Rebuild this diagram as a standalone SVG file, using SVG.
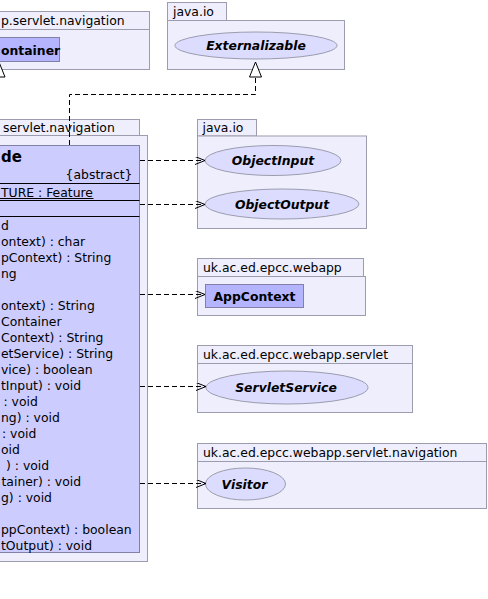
<svg xmlns="http://www.w3.org/2000/svg" width="488" height="599" viewBox="0 0 488 599">
<style>
text{font-family:"DejaVu Sans","Liberation Sans",sans-serif;font-size:12.4px;fill:#000}
.pkg{fill:#eeeefc;stroke:#9c9cae;stroke-width:1}
.cls{fill:#ccccff;stroke:#8080a8;stroke-width:1}
.cls2{fill:#b4b4ff;stroke:#8080a8;stroke-width:1}
.ell{fill:#dcdcff;stroke:#9c9cae;stroke-width:1}
.b{font-weight:bold}
.bi{font-weight:bold;font-style:italic}
.sep{stroke:#000;stroke-width:1}
.dep{fill:none;stroke:#000;stroke-width:1;stroke-dasharray:5,3}
</style>
<defs>
<marker id="open" markerWidth="12" markerHeight="10" refX="10" refY="4" orient="auto" markerUnits="userSpaceOnUse">
<path d="M0,0 L10,4 L0,8" fill="none" stroke="#000" stroke-width="1"/>
</marker>
</defs>

<g id="pkg-topleft">
<rect class="pkg" x="-2" y="11.5" width="151.5" height="18"/>
<rect class="pkg" x="-2" y="29.5" width="151.5" height="40"/>
<text x="1" y="25">p.servlet.navigation</text>
</g>
<g id="node-container">
<rect class="cls2" x="-2" y="37.5" width="61.5" height="24"/>
<text class="b" x="1" y="54.5">ontainer</text>
</g>

<g id="pkg-javaio-top">
<rect class="pkg" x="167.5" y="2.5" width="59" height="18"/>
<rect class="pkg" x="167.5" y="20.5" width="177" height="49"/>
<text x="173" y="16">java.io</text>
</g>
<g id="node-externalizable">
<ellipse class="ell" cx="256" cy="45.5" rx="81" ry="13.5"/>
<text class="bi" x="256" y="50" text-anchor="middle">Externalizable</text>
</g>

<g id="pkg-main">
<rect class="pkg" x="-2" y="119.5" width="141.5" height="16"/>
<rect class="pkg" x="-2" y="135.5" width="149.5" height="426"/>
<text x="3" y="131.5">servlet.navigation</text>
</g>
<g id="node-main">
<rect class="cls" x="-2" y="145.5" width="141.5" height="407"/>
<text class="b" x="1" y="161.5" style="font-size:15px">de</text>
<text x="132.5" y="178.5" text-anchor="end">{abstract}</text>
<line class="sep" x1="-2" y1="183.5" x2="139.5" y2="183.5"/>
<text x="1" y="196.5">TURE : Feature</text>
<line class="sep" x1="-2" y1="198.5" x2="93.5" y2="198.5"/>
<line class="sep" x1="-2" y1="200.5" x2="139.5" y2="200.5"/>
<line class="sep" x1="-2" y1="216.5" x2="139.5" y2="216.5"/>
<g id="operations">
<text x="1" y="230">d</text>
<text x="1" y="246">ontext) : char</text>
<text x="1" y="262">pContext) : String</text>
<text x="1" y="278">ng</text>
<text x="1" y="310">ontext) : String</text>
<text x="1" y="326">Container</text>
<text x="1" y="342">Context) : String</text>
<text x="1" y="358">etService) : String</text>
<text x="1" y="374">vice) : boolean</text>
<text x="1" y="390">tInput) : void</text>
<text x="3.5" y="406">: void</text>
<text x="1" y="422">ng) : void</text>
<text x="2" y="438">: void</text>
<text x="1" y="454">oid</text>
<text x="6" y="470">) : void</text>
<text x="1.5" y="486">tainer) : void</text>
<text x="1" y="502">g) : void</text>
<text x="1" y="534">ppContext) : boolean</text>
<text x="1" y="550">tOutput) : void</text>
</g>
</g>

<g id="pkg-javaio">
<rect class="pkg" x="197.5" y="119.5" width="59" height="16.5"/>
<rect class="pkg" x="197.5" y="136" width="169" height="92.5"/>
<text x="202.5" y="132">java.io</text>
</g>
<g id="node-objectinput">
<ellipse class="ell" cx="273" cy="160.5" rx="68" ry="15"/>
<text class="bi" x="273" y="165" text-anchor="middle">ObjectInput</text>
</g>
<g id="node-objectoutput">
<ellipse class="ell" cx="282" cy="204" rx="77" ry="15"/>
<text class="bi" x="282" y="208.5" text-anchor="middle">ObjectOutput</text>
</g>

<g id="pkg-webapp">
<rect class="pkg" x="197.5" y="258.5" width="166" height="18"/>
<rect class="pkg" x="197.5" y="276.5" width="168" height="39"/>
<text x="203" y="272">uk.ac.ed.epcc.webapp</text>
</g>
<g id="node-appcontext">
<rect class="cls2" x="205.5" y="284.5" width="98" height="23"/>
<text class="b" x="254.5" y="300.5" text-anchor="middle">AppContext</text>
</g>

<g id="pkg-servlet">
<rect class="pkg" x="197.5" y="345.5" width="215" height="18"/>
<rect class="pkg" x="197.5" y="363.5" width="215" height="49"/>
<text x="203" y="359">uk.ac.ed.epcc.webapp.servlet</text>
</g>
<g id="node-servletservice">
<ellipse class="ell" cx="287" cy="387.5" rx="81" ry="16.5"/>
<text class="bi" x="286" y="392" text-anchor="middle">ServletService</text>
</g>

<g id="pkg-navigation">
<rect class="pkg" x="197.5" y="443.5" width="289" height="18"/>
<rect class="pkg" x="197.5" y="461.5" width="289" height="47"/>
<text x="203" y="457">uk.ac.ed.epcc.webapp.servlet.navigation</text>
</g>
<g id="node-visitor">
<ellipse class="ell" cx="245.5" cy="484" rx="40" ry="16"/>
<text class="bi" x="244.5" y="488.5" text-anchor="middle">Visitor</text>
</g>

<g id="connectors">
<polygon points="-1,62 5,77 -7,77" fill="#fff" stroke="#000" stroke-width="1"/>
<path class="dep" d="M69.5,145 V94.5 H255.5 V77"/>
<polygon points="255.5,62 261.5,77 249.5,77" fill="#fff" stroke="#000" stroke-width="1"/>
<line class="dep" x1="140" y1="160.5" x2="205" y2="160.5" marker-end="url(#open)"/>
<line class="dep" x1="140" y1="204.5" x2="205" y2="204.5" marker-end="url(#open)"/>
<line class="dep" x1="140" y1="294.5" x2="205" y2="294.5" marker-end="url(#open)"/>
<line class="dep" x1="140" y1="386.5" x2="206" y2="386.5" marker-end="url(#open)"/>
<line class="dep" x1="140" y1="483.5" x2="206" y2="483.5" marker-end="url(#open)"/>
</g>
</svg>
